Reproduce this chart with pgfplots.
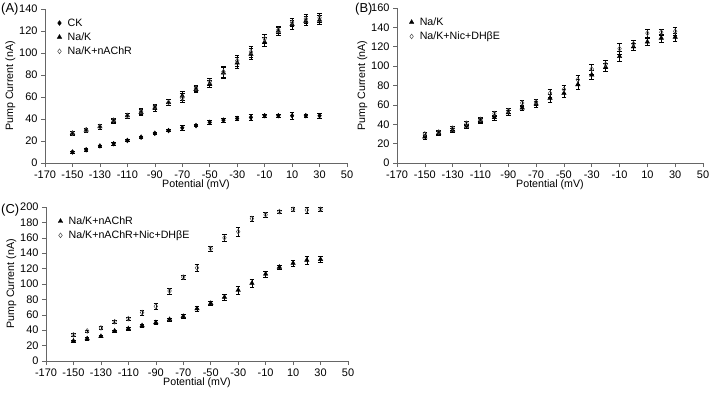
\documentclass[border=0pt]{standalone}
\usepackage{fontspec}
\setmainfont{Liberation Sans}
\usepackage{pgfplots}
\usepackage{pgfplotstable}
\pgfplotsset{compat=1.18}

\pgfplotstableread{
x ck eck nak enak nac enac
-150 10 1 27 1.5 27 1.5
-140 12 1 30 2 30 2
-130 15.5 1 33 2 33 2
-120 17.5 1 38 2 39 2
-110 20.5 1 43 2 43 2
-100 23.5 1 46 2.5 47 2.5
-90 27 1 50 2.5 51 2.5
-80 29.5 1 55 2.5 55 2.5
-70 32 2 61 4 59 4
-60 34 1 67 3 68 3
-50 37 2 72 3 74 3
-40 39 1.5 82 5 83 5
-30 40.5 2 91 5 93 5
-20 41.5 3 99 5 101 5
-10 43 1.5 110 4 113 4
0 43 1.5 120 3.5 121 3.5
10 43 3 126 4 128 4
20 43 1.5 129 4 131 4
30 43 2.5 130 4 132 4
}\tabA

\pgfplotstableread{
x nak enak nic enic
-150 27 2 30 2
-140 31 2 32 2
-130 34 2 36 2
-120 38 2.5 41 2.5
-110 44 2.5 45 2.5
-100 47 2.5 51 2.5
-90 52 2.5 54 2.5
-80 57 3 62 3
-70 61 3 63 3
-60 67 4 72 4
-50 72 4 76 4
-40 81 5 86 5
-30 91 5 97 5
-20 99 4 102 4
-10 110 5 118 6
0 120 4 123 4
10 125 3.5 134 4
20 129 4 135 3
30 130 4 136 4
}\tabB

\pgfplotstableread{
x nac enac nic enic
-150 26 1.5 34 1.5
-140 29 1.5 39 1.5
-130 32 1.5 43 1.5
-120 39 1.5 51 2
-110 42 1.5 55 1.5
-100 46 2 63 3
-90 50 2.5 71 4
-80 54 2 91 4
-70 58 2.5 109 3
-60 68 3 121 5
-50 75 2.5 146 3
-40 83 4 160 5
-30 92 5 168 6
-20 101 5 185 3
-10 113 4 190 3
0 122 3 194 2
10 127 4 197 3
20 131 5 196 4
30 132 4 197 3
}\tabC

\pgfplotsset{
  panel/.style={
    scale only axis,
    axis x line*=bottom,
    axis y line*=left,
    axis line style={black!60, line width=0.6pt},
    tick style={black!60, line width=0.6pt},
    tick align=outside,
    major tick length=4bp,
    xmin=-170, xmax=50,
    xtick={-170,-150,...,50},
    ymin=0,
    tick label style={font=\fontsize{11}{13}\selectfont},
    label style={font=\fontsize{10.7}{12}\selectfont},
    /pgf/number format/assume math mode=true,
    xlabel={Potential (mV)},
    ylabel={Pump Current (nA)},
    xlabel style={yshift=5bp},
    ylabel style={yshift=-3bp},
    legend style={draw=none, fill=none, at={(0.03,0.965)}, anchor=north west,
      font=\fontsize{10.7}{12}\selectfont, row sep=1bp},
    legend cell align=left,
    legend image code/.code={\draw[mark repeat=2,mark phase=2] plot coordinates {(0cm,0cm)(0.15cm,0cm)(0.3cm,0cm)}; \path (0.36cm,0cm);},
    error bars/y dir=both,
    error bars/y explicit,
    error bars/error bar style={black, line width=0.5pt},
    error bars/error mark options={rotate=90, mark size=2.3bp, black, line width=0.5pt},
  },
  fdia/.style={only marks, mark=diamond*, mark size=2.4bp, mark options={fill=black, draw=black}},
  tri/.style={only marks, mark=triangle*, mark size=2.6bp, mark options={fill=black, draw=black}},
  odia/.style={only marks, mark=diamond, mark size=2.4bp, mark options={draw=black!70, fill=white, line width=0.5pt}},
}

\begin{document}
\begin{tikzpicture}[x=1bp,y=1bp]
\useasboundingbox (0,0) rectangle (711,398);

% Panel A
\begin{axis}[panel, at={(45bp,235bp)}, anchor=south west, width=302bp, height=154bp,
  ymax=140, ytick={0,20,...,140}]
\addplot[fdia] table[x=x, y=ck, y error=eck]{\tabA};
\addlegendentry{CK}
\addplot[tri] table[x=x, y=nak, y error=enak]{\tabA};
\addlegendentry{Na/K}
\addplot[odia] table[x=x, y=nac, y error=enac]{\tabA};
\addlegendentry{Na/K+nAChR}
\end{axis}

% Panel B
\begin{axis}[panel, at={(397bp,235bp)}, anchor=south west, width=306bp, height=155bp,
  ymax=160, ytick={0,20,...,160}]
\addplot[tri] table[x=x, y=nak, y error=enak]{\tabB};
\addlegendentry{Na/K}
\addplot[odia] table[x=x, y=nic, y error=enic]{\tabB};
\addlegendentry{Na/K+Nic+DH\symbol{"03B2}E}
\end{axis}

% Panel C
\begin{axis}[panel, at={(46bp,37bp)}, anchor=south west, width=302bp, height=154bp,
  ymax=200, ytick={0,20,...,200}]
\addplot[tri] table[x=x, y=nac, y error=enac]{\tabC};
\addlegendentry{Na/K+nAChR}
\addplot[odia] table[x=x, y=nic, y error=enic]{\tabC};
\addlegendentry{Na/K+nAChR+Nic+DH\symbol{"03B2}E}
\end{axis}

\node[anchor=west, inner sep=1bp, font=\fontsize{13}{15}\selectfont] at (0bp,389bp) {(A)};
\node[anchor=west, inner sep=1bp, font=\fontsize{13}{15}\selectfont] at (354bp,389bp) {(B)};
\node[anchor=west, inner sep=1bp, font=\fontsize{13}{15}\selectfont] at (0bp,188bp) {(C)};
\end{tikzpicture}
\end{document}
